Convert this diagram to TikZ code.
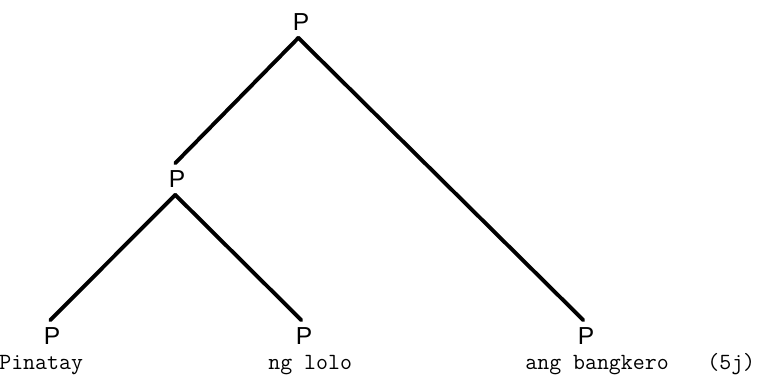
\documentclass[tikz,border=0pt]{standalone}
\usepackage{fontspec}
\setmainfont{Liberation Sans}
\tikzset{
  pcat/.style  = {font=\fontsize{14}{16}\selectfont, inner sep=4pt},  % the P labels
  pedge/.style = {line width=2.2pt, line cap=round},
  pword/.style = {font=\fontsize{13.2}{15}\selectfont\ttfamily, anchor=base west, inner sep=0pt},
}

\begin{document}
\begin{tikzpicture}
  \useasboundingbox (0,0) rectangle (15.42,7.54);
  % tree
  \node[pcat] (ptop) at (6.02, 7.10) {P};
  \node[pcat] (pmid) at (3.54, 3.96) {P};
  \node[pcat] (pa)   at (1.04, 0.82) {P};
  \node[pcat] (pb)   at (6.08, 0.82) {P};
  \node[pcat] (pc)   at (11.72, 0.82) {P};
  \draw[pedge] ([xshift=-1.5pt]ptop.south) -- ([xshift=-1pt]pmid.north);
  \draw[pedge] ([xshift=-1.5pt]ptop.south) -- ([xshift=-1.5pt]pc.north);
  \draw[pedge] ([xshift=-1pt]pmid.south) -- ([xshift=-1pt]pa.north);
  \draw[pedge] ([xshift=-1pt]pmid.south) -- ([xshift=-1.5pt]pb.north);
  % words
  \node[pword] (wa) at (-0.02, 0.15) {Pinatay};
  \node[pword] (wb) at (5.36, 0.15)  {ng lolo};
  \node[pword] (wc) at (10.50, 0.15) {ang bangkero};
  \node[pword] (ex) at (14.14, 0.15) {(5j)};
\end{tikzpicture}
\end{document}
